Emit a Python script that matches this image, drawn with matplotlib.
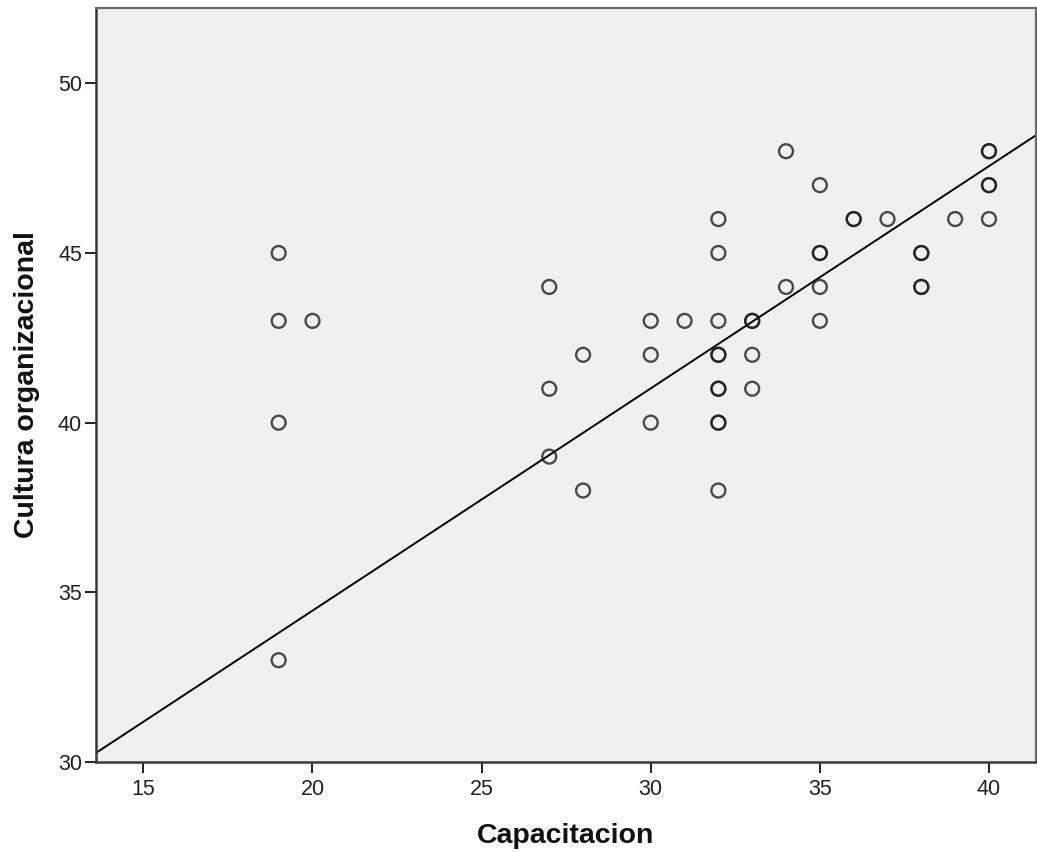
import matplotlib
matplotlib.use("Agg")
import matplotlib.pyplot as plt
import numpy as np

plt.rcParams['font.family'] = ['Liberation Sans', 'DejaVu Sans']

# Data (Capacitacion, Cultura organizacional); repeated pairs appear as darker circles
capacitacion = [19, 19, 19, 19, 20,
                27, 27, 27, 28, 28,
                30, 30, 30, 31,
                32, 32, 32, 32, 32, 32, 32, 32, 32, 32,
                33, 33, 33, 33,
                34, 34,
                35, 35, 35, 35, 35,
                36, 36, 37,
                38, 38, 38, 38, 39,
                40, 40, 40, 40, 40]
cultura = [45, 43, 40, 33, 43,
           44, 41, 39, 42, 38,
           43, 42, 40, 43,
           46, 45, 43, 42, 42, 41, 41, 40, 40, 38,
           43, 43, 42, 41,
           48, 44,
           47, 45, 45, 44, 43,
           46, 46, 46,
           45, 45, 44, 44, 46,
           48, 48, 47, 47, 46]

# Fit line as drawn in the reference: y = intercept + slope * x
fit_intercept = 21.36
fit_slope = 0.655

x_ticks = [15, 20, 25, 30, 35, 40]
y_ticks = [30, 35, 40, 45, 50]

fig = plt.figure(figsize=(10.37, 8.52), dpi=100)
ax = fig.add_axes([96/1037, 1 - 762/852, (1036 - 96)/1037, (762 - 8)/852])
ax.set_facecolor('#f0f0f0')

xlim = (13.6, 41.39)
ylim = (30.0, 52.22)

ax.scatter(capacitacion, cultura, s=100, facecolors='none',
           edgecolors=[(0.1, 0.1, 0.1, 0.78)], linewidths=1.7, zorder=3)

xs = np.array(xlim)
ax.plot(xs, fit_intercept + fit_slope * xs, color='black', linewidth=1.4, zorder=2)

ax.set_xlim(*xlim)
ax.set_ylim(*ylim)
ax.set_xticks(x_ticks)
ax.set_yticks(y_ticks)
ax.tick_params(axis='both', labelsize=15.5, colors='#222222', width=1.4, length=8, direction='out')
ax.tick_params(axis='x', pad=4)
ax.tick_params(axis='y', pad=2)

for side in ['left', 'bottom']:
    ax.spines[side].set_color('#3a3a3a')
    ax.spines[side].set_linewidth(1.8)
for side in ['top', 'right']:
    ax.spines[side].set_color('#6a6a6a')
    ax.spines[side].set_linewidth(1.6)

ax.set_xlabel('Capacitacion', fontsize=20.5, fontweight='bold', color='#111111', labelpad=17)
ax.set_ylabel('Cultura organizacional', fontsize=20.5, fontweight='bold', color='#111111', labelpad=13)

fig.savefig('out.png', dpi=100, facecolor='white')
